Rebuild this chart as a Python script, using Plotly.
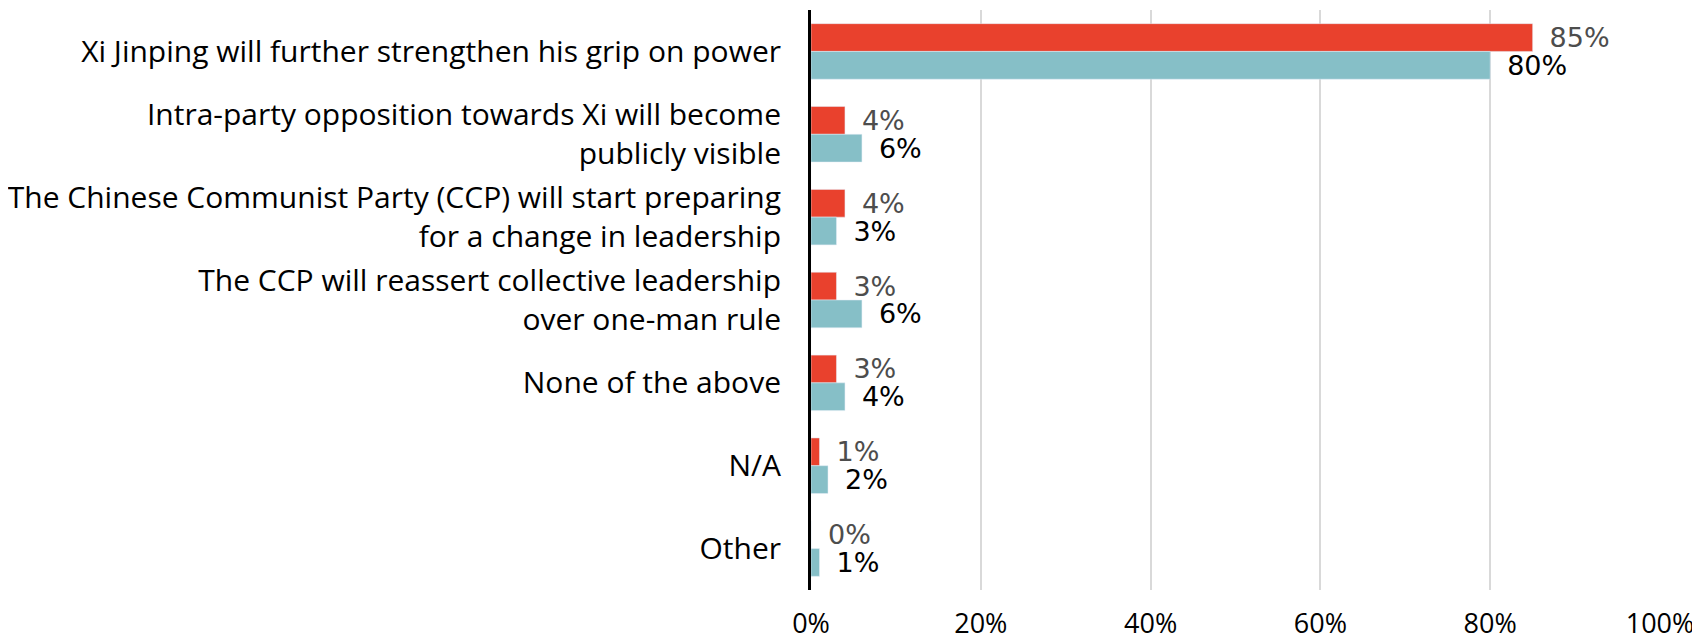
import plotly.graph_objects as go

categories = [
    "Xi Jinping will further strengthen his grip on power",
    "Intra-party opposition towards Xi will become<br>publicly visible",
    "The Chinese Communist Party (CCP) will start preparing<br>for a change in leadership",
    "The CCP will reassert collective leadership<br>over one-man rule",
    "None of the above",
    "N/A",
    "Other",
]
series_red = [85, 4, 4, 3, 3, 1, 0]
series_teal = [80, 6, 3, 6, 4, 2, 1]
x_ticks = [0, 20, 40, 60, 80, 100]
x_tick_labels = ["0%", "20%", "40%", "60%", "80%", "100%"]

RED = "#E9412D"
TEAL = "#86BFC7"
GAP = " \u2009"

fig = go.Figure()
fig.add_trace(go.Bar(
    y=categories, x=series_red, orientation="h", marker_color=RED,
    text=[f"{GAP}{v}%" for v in series_red], textposition="outside",
    constraintext="none", cliponaxis=False,
    textfont=dict(family="DejaVu Sans", size=27, color="#4D4D4D"),
    name="red",
))
fig.add_trace(go.Bar(
    y=categories, x=series_teal, orientation="h", marker_color=TEAL,
    text=[f"{GAP}{v}%" for v in series_teal], textposition="outside",
    constraintext="none", cliponaxis=False,
    textfont=dict(family="DejaVu Sans", size=27, color="#000000"),
    name="teal",
))

fig.update_layout(
    width=1692, height=633,
    margin=dict(l=803, r=40, t=2, b=51, pad=0),
    plot_bgcolor="white", paper_bgcolor="white",
    barmode="group", bargap=0.33, bargroupgap=0,
    showlegend=False,
    font=dict(family="Open Sans", size=28, color="#000000"),
)
fig.update_xaxes(
    range=[0, 100], tickvals=x_ticks, ticktext=x_tick_labels,
    showgrid=True, gridcolor="#D9D9D9", gridwidth=2,
    zeroline=False, showline=False, ticks="",
    ticklabelstandoff=15, automargin=False,
    tickfont=dict(family="Open Sans", size=27, color="#000000"),
)
fig.update_yaxes(
    autorange="reversed", showline=True, linecolor="#000000", linewidth=3,
    ticks="", showgrid=False, ticklabelstandoff=21, automargin=False,
    tickfont=dict(family="Open Sans", size=30, color="#000000"),
)

fig.write_html("out.html")
